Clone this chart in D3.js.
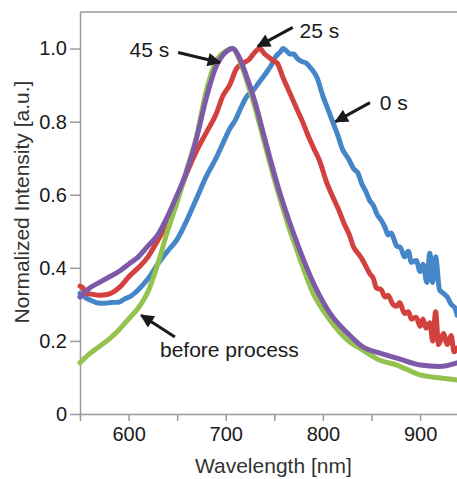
<!DOCTYPE html>
<html>
<head>
<meta charset="utf-8">
<script src="https://cdn.jsdelivr.net/npm/d3@7"></script>
<style>
  body { margin: 0; background: #fff; }
  svg { display: block; font-family: "Liberation Sans", Arial, sans-serif; }
</style>
</head>
<body>
<div id="chart"></div>
<script>
// --------------------------------------
//  Data (wavelength nm, normalized intensity)
// --------------------------------------

const series0s = [
  [550,0.33],[556,0.318],[562,0.31],[568,0.304],[575,0.303],[582,0.305],[590,0.306],[596,0.315],
  [602,0.322],[610,0.34],[620,0.37],[630,0.41],[640,0.445],[650,0.478],[660,0.53],[670,0.59],
  [680,0.65],[690,0.70],[697,0.74],[704,0.78],[710,0.805],[716,0.84],[722,0.87],[728,0.885],
  [735,0.91],[742,0.935],[747,0.955],[752,0.98],[756,0.99],[759,1.0],[762,0.995],[766,0.985],
  [770,0.985],[773,0.975],[778,0.965],[783,0.96],[788,0.945],[794,0.92],[800,0.87],[805,0.835],
  [810,0.80],[815,0.765],[820,0.725],[826,0.70],[832,0.67],[836,0.66],[840,0.63],[844,0.61],
  [848,0.585],[852,0.57],[856,0.545],[860,0.53],[864,0.51],[867,0.49],[870,0.495],[876,0.46],
  [880,0.455],[884,0.43],[888,0.445],[891,0.415],[896,0.42],[900,0.39],[903,0.41],[907,0.36],
  [910,0.44],[913,0.36],[916,0.43],[920,0.34],[924,0.33],[928,0.32],[932,0.30],[936,0.29],[938,0.27]
];

const series25s = [
  [550,0.35],[553,0.345],[556,0.33],[562,0.328],[570,0.325],[578,0.327],[585,0.335],[592,0.35],
  [600,0.375],[610,0.40],[620,0.43],[630,0.475],[640,0.525],[650,0.59],[660,0.66],[670,0.72],
  [680,0.77],[690,0.82],[697,0.87],[704,0.90],[711,0.945],[718,0.96],[724,0.97],[730,0.99],
  [735,1.0],[740,0.985],[745,0.975],[750,0.965],[753,0.96],[759,0.92],[764,0.89],[769,0.86],
  [774,0.83],[779,0.80],[785,0.76],[790,0.73],[797,0.69],[803,0.64],[810,0.595],[816,0.56],
  [822,0.52],[828,0.485],[831,0.46],[836,0.44],[840,0.425],[845,0.40],[848,0.385],[852,0.37],
  [855,0.345],[860,0.34],[864,0.32],[867,0.325],[872,0.30],[876,0.295],[879,0.305],[884,0.275],
  [888,0.28],[891,0.26],[896,0.265],[900,0.24],[903,0.26],[906,0.235],[910,0.25],[913,0.20],
  [916,0.28],[919,0.19],[924,0.22],[928,0.19],[932,0.215],[935,0.17],[938,0.18]
];

const series45s = [
  [550,0.32],[560,0.345],[570,0.36],[580,0.375],[590,0.39],[600,0.41],[610,0.43],[620,0.46],
  [630,0.49],[640,0.54],[650,0.60],[660,0.665],[670,0.755],[680,0.865],[690,0.95],[700,0.99],
  [707,1.0],[714,0.975],[720,0.935],[730,0.855],[740,0.755],[754,0.62],[765,0.53],[776,0.45],
  [790,0.36],[807,0.277],[825,0.222],[841,0.184],[858,0.167],[876,0.153],[900,0.134],[920,0.13],
  [938,0.14]
];

const seriesBefore = [
  [550,0.14],[560,0.165],[570,0.185],[580,0.205],[590,0.23],[600,0.26],[610,0.29],[620,0.335],
  [630,0.41],[640,0.50],[650,0.58],[660,0.67],[670,0.76],[680,0.885],[690,0.965],[700,0.993],
  [707,1.0],[714,0.97],[720,0.925],[730,0.84],[740,0.74],[754,0.605],[765,0.51],[773,0.45],
  [790,0.33],[807,0.258],[825,0.203],[841,0.175],[858,0.148],[876,0.134],[900,0.107],[920,0.099],
  [938,0.093]
];

const seriesInfo = [
  {id: "0 s", values: series0s, color: "#4586c8"},
  {id: "25 s", values: series25s, color: "#d2413e"},
  {id: "before", values: seriesBefore, color: "#93c24e"},
  {id: "45 s", values: series45s, color: "#7d59a8"}
];

const yTicks = [0, 0.2, 0.4, 0.6, 0.8, 1.0];
const xTicks = [550, 600, 650, 700, 750, 800, 850, 900];

// label, text anchor point, arrow tail, arrow tip (data units)
const notes = [
  {label: "45 s", at: [601, 0.978], from: [651, 0.989], to: [694, 0.962]},
  {label: "25 s", at: [776, 1.03], from: [769, 1.058], to: [733, 1.006]},
  {label: "0 s", at: [858.6, 0.833], from: [848.4, 0.852], to: [813, 0.80]},
  {label: "before process", at: [632.3, 0.156], from: [647.7, 0.211], to: [613, 0.27]}
];

// --------------------------------------
//  Margin and canvas
// --------------------------------------

const width = 457;
const height = 479;
const margin = {top: 12, right: 0, bottom: 65, left: 80};
const innerwidth = width - margin.left - margin.right;
const innerheight = height - margin.top - margin.bottom;

const svg = d3.select("#chart")
  .append("svg")
    .attr("width", width)
    .attr("height", height);

const innerChart = svg.append("g")
    .attr("transform", `translate(${margin.left}, ${margin.top})`);

// --------------------------------------
//  Scales
// --------------------------------------

const x = d3.scaleLinear()
    .domain([550, 938])
    .range([0, innerwidth]);

const y = d3.scaleLinear()
    .domain([0, 1.1])
    .range([innerheight, 0]);

// --------------------------------------
//  Axes
// --------------------------------------

const axisColor = "#9a9a9a";

const xAxis = innerChart.append("g")
    .attr("transform", `translate(0, ${innerheight})`)
    .call(d3.axisBottom(x)
      .tickValues(xTicks)
      .tickFormat(d => d % 100 === 0 ? d : "")
      .tickSize(7)
      .tickSizeOuter(0)
      .tickPadding(6));

const yAxis = innerChart.append("g")
    .call(d3.axisLeft(y)
      .tickValues(yTicks)
      .tickFormat(d => d === 0 ? "0" : d.toFixed(1))
      .tickSize(10)
      .tickSizeOuter(0)
      .tickPadding(3));

[xAxis, yAxis].forEach(ax => {
  ax.select(".domain").attr("stroke", axisColor).attr("stroke-width", 1.5);
  ax.selectAll(".tick line").attr("stroke", axisColor).attr("stroke-width", 1.5);
  ax.selectAll(".tick text")
    .attr("fill", "#1a1a1a")
    .style("font-size", "20px")
    .style("font-family", "'Liberation Sans', Arial, sans-serif");
});

// top frame line
innerChart.append("line")
    .attr("x1", 0).attr("x2", innerwidth)
    .attr("y1", y(1.1)).attr("y2", y(1.1))
    .attr("stroke", axisColor)
    .attr("stroke-width", 1.5);

// axis titles
svg.append("text")
    .attr("x", margin.left + x(749))
    .attr("y", 473)
    .attr("text-anchor", "middle")
    .attr("fill", "#333")
    .style("font-size", "21px")
    .text("Wavelength [nm]");

svg.append("text")
    .attr("transform", `translate(29, ${margin.top + y(0.58)}) rotate(-90)`)
    .attr("text-anchor", "middle")
    .attr("fill", "#333")
    .style("font-size", "21px")
    .text("Normalized Intensity [a.u.]");

// --------------------------------------
//  Data drawing
// --------------------------------------

const line = d3.line()
    .x(d => x(d[0]))
    .y(d => y(d[1]))
    .curve(d3.curveMonotoneX);

innerChart.append("g")
  .selectAll("path")
  .data(seriesInfo)
  .join("path")
    .attr("d", d => line(d.values))
    .attr("fill", "none")
    .attr("stroke", d => d.color)
    .attr("stroke-width", 5)
    .attr("stroke-linejoin", "round")
    .attr("stroke-linecap", "round");

// --------------------------------------
//  Annotations
// --------------------------------------

svg.append("defs").append("marker")
    .attr("id", "head")
    .attr("viewBox", "0 0 10 10")
    .attr("refX", 9).attr("refY", 5)
    .attr("markerWidth", 5.5).attr("markerHeight", 4.5)
    .attr("markerUnits", "strokeWidth")
    .attr("orient", "auto")
  .append("path")
    .attr("d", "M0,0 L10,5 L0,10 z")
    .attr("fill", "#1a1a1a");

const noteG = innerChart.append("g");

noteG.selectAll("line")
  .data(notes)
  .join("line")
    .attr("x1", d => x(d.from[0]))
    .attr("y1", d => y(d.from[1]))
    .attr("x2", d => x(d.to[0]))
    .attr("y2", d => y(d.to[1]))
    .attr("stroke", "#1a1a1a")
    .attr("stroke-width", 3)
    .attr("marker-end", "url(#head)");

noteG.selectAll("text")
  .data(notes)
  .join("text")
    .attr("x", d => x(d.at[0]))
    .attr("y", d => y(d.at[1]))
    .attr("fill", "#1a1a1a")
    .style("font-size", "21px")
    .text(d => d.label);
</script>
</body>
</html>
